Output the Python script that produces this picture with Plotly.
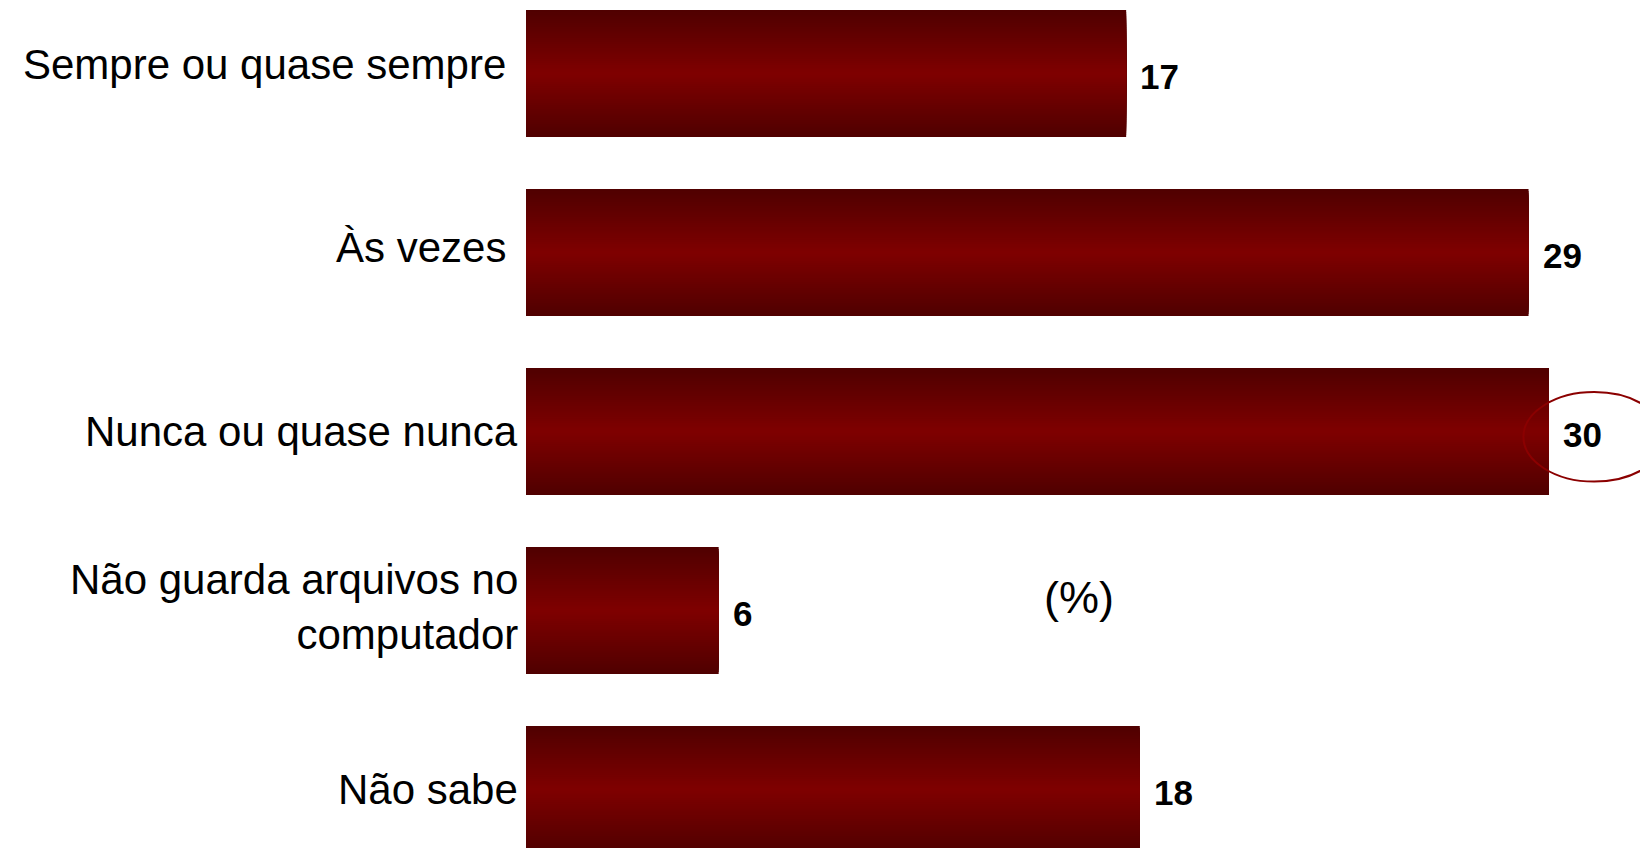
import plotly.graph_objects as go

# categories (top to bottom) and bar lengths
categories = [
    "Sempre ou quase sempre",
    "Às vezes",
    "Nunca ou quase nunca",
    "Não guarda arquivos no<br>computador",
    "Não sabe",
]
values = [17.6, 29.4, 30.0, 5.65, 18.0]
labels = ["17", "29", "30", "6", "18"]
highlight = 2  # circled value

positions = list(range(len(categories)))

# page body has an 8px margin, so the figure is drawn 8px smaller
W, H = 1640, 840
LEFT = 518
PX_PER_UNIT = 34.1
PITCH = 179

EDGE = (0x50, 0x00, 0x00)
CENTER = (0x80, 0x00, 0x00)
BAR_WIDTH = 0.71
LAYERS = 30

# small nudges for the category labels (x, y in px)
label_nudge = {0: (-18, 9), 1: (-18, 5), 3: (-6, 4)}


def mix(t):
    # t = 1 at the bar edge, 0 at its middle
    r, g, b = (round(c + (e - c) * t) for c, e in zip(CENTER, EDGE))
    return f"rgb({r},{g},{b})"


fig = go.Figure()

# vertical gradient: nested bars, each a bit thinner and lighter
for k in range(LAYERS):
    t = 1 - k / LAYERS
    fig.add_trace(go.Bar(
        x=values, y=positions, orientation="h",
        width=BAR_WIDTH * t,
        marker=dict(color=mix(t), line=dict(width=0)),
        hoverinfo="skip", showlegend=False,
    ))

for p, cat in zip(positions, categories):
    dx, dy = label_nudge.get(p, (-6, 0))
    fig.add_annotation(
        x=0, y=p, text=cat, showarrow=False, align="right",
        xanchor="right", yanchor="middle", xshift=dx, yshift=dy,
        font=dict(family="Liberation Sans", size=42, color="black"),
    )

for v, p, lab in zip(values, positions, labels):
    fig.add_annotation(
        x=v, y=p, text=f"<b>{lab}</b>", showarrow=False,
        xanchor="left", yanchor="middle", xshift=12, yshift=-3,
        font=dict(family="Liberation Sans", size=35, color="black"),
    )

# ring around the highlighted label
hv = values[highlight]
fig.add_shape(
    type="circle", xref="x", yref="y",
    x0=hv - 0.75, x1=hv + 3.4, y0=highlight - 0.22, y1=highlight + 0.28,
    line=dict(color="#8b0000", width=2),
)

fig.add_annotation(
    xref="paper", yref="paper", x=0.493, y=0.298, text="(%)",
    showarrow=False, xanchor="center", yanchor="middle",
    font=dict(family="Liberation Sans", size=45, color="black"),
)

y_top = -65.5 / PITCH
fig.update_layout(
    width=W, height=H,
    margin=dict(l=LEFT, r=0, t=0, b=0),
    barmode="overlay",
    plot_bgcolor="white", paper_bgcolor="white",
    font=dict(family="Liberation Sans", size=42, color="black"),
    xaxis=dict(range=[0, (W - LEFT) / PX_PER_UNIT], visible=False, fixedrange=True),
    yaxis=dict(
        range=[y_top + H / PITCH, y_top],
        visible=False, fixedrange=True,
    ),
)

fig.write_html("out.html")
